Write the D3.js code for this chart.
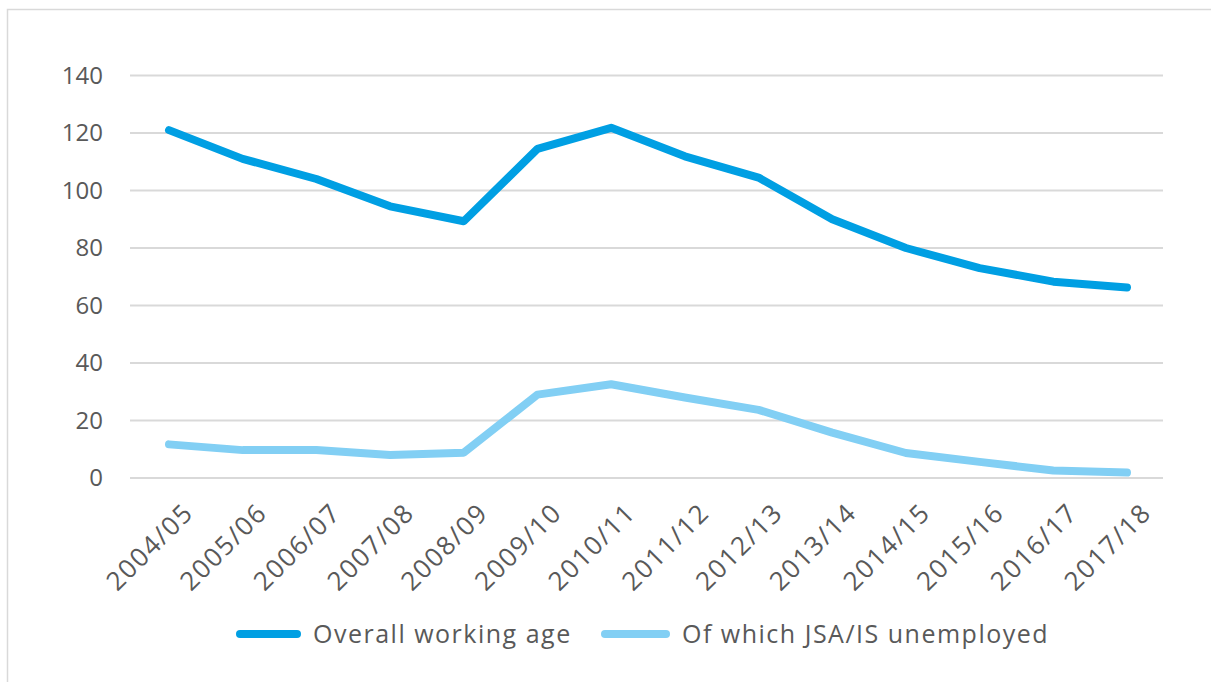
<!DOCTYPE html>
<html>
<head>
<meta charset="utf-8">
<script src="https://cdn.jsdelivr.net/npm/d3@7"></script>
<style>
  html, body { margin: 0; padding: 0; background: #fff; }
  svg { display: block; font-family: "Open Sans", sans-serif; }
</style>
</head>
<body>
<svg id="chart" width="1211" height="682"></svg>
<script>
const categories = ["2004/05","2005/06","2006/07","2007/08","2008/09","2009/10","2010/11","2011/12","2012/13","2013/14","2014/15","2015/16","2016/17","2017/18"];
const overallWorkingAge = [121, 111, 104, 94.5, 89.3, 114.5, 121.8, 111.9, 104.5, 90, 80, 73, 68.3, 66.3];
const jsaIsUnemployed = [11.7, 9.7, 9.7, 8.0, 8.8, 29, 32.6, 28, 23.7, 15.8, 8.7, 5.6, 2.6, 1.9];
const yTicks = [0, 20, 40, 60, 80, 100, 120, 140];
const seriesNames = ["Overall working age", "Of which JSA/IS unemployed"];
const seriesColors = ["#009FE3", "#82CFF4"];

const svg = d3.select("#chart");
const W = 1211, H = 682;
const plot = { left: 130, right: 1163, top: 75.5, bottom: 478 };
const textColor = "#595959";

// outer frame
svg.append("rect")
  .attr("x", 7.5).attr("y", 9.5)
  .attr("width", W + 20).attr("height", H + 20)
  .attr("fill", "none").attr("stroke", "#D9D9D9").attr("stroke-width", 1.5);

const x = d3.scalePoint().domain(categories).range([169, 1127]);
const y = d3.scaleLinear().domain([0, 140]).range([plot.bottom, plot.top]);

// gridlines
svg.append("g").selectAll("line").data(yTicks).join("line")
  .attr("x1", plot.left).attr("x2", plot.right)
  .attr("y1", d => y(d)).attr("y2", d => y(d))
  .attr("stroke", "#D9D9D9").attr("stroke-width", 2);

// y axis labels
const yAxis = svg.append("g")
  .attr("transform", `translate(${plot.left},0)`)
  .call(d3.axisLeft(y).tickValues(yTicks).tickSize(0).tickPadding(27));
yAxis.select(".domain").remove();
yAxis.selectAll("text")
  .attr("fill", textColor)
  .style("font-size", "24px")
  .style("font-family", "'Open Sans', sans-serif");

// x axis labels
const xAxis = svg.append("g")
  .attr("transform", `translate(0,${plot.bottom})`)
  .call(d3.axisBottom(x).tickSize(0).tickPadding(0));
xAxis.select(".domain").remove();
xAxis.selectAll("text")
  .attr("fill", textColor)
  .style("font-size", "26px")
  .style("letter-spacing", "1.6px")
  .style("font-family", "'Open Sans', sans-serif")
  .attr("text-anchor", "end")
  .attr("y", 0).attr("dy", "0.35em")
  .attr("transform", "translate(19,30) rotate(-45)");

// lines
const line = d3.line().x((d, i) => x(categories[i])).y(d => y(d));
[overallWorkingAge, jsaIsUnemployed].forEach((s, k) => {
  svg.append("path")
    .datum(s)
    .attr("d", line)
    .attr("fill", "none")
    .attr("stroke", seriesColors[k])
    .attr("stroke-width", 8)
    .attr("stroke-linecap", "round")
    .attr("stroke-linejoin", "round");
});

// legend
const legendItems = [
  { x1: 240, x2: 297, tx: 313 },
  { x1: 605, x2: 666, tx: 682 }
];
const lg = svg.append("g");
legendItems.forEach((it, k) => {
  lg.append("line")
    .attr("x1", it.x1).attr("x2", it.x2)
    .attr("y1", 634).attr("y2", 634)
    .attr("stroke", seriesColors[k]).attr("stroke-width", 8)
    .attr("stroke-linecap", "round");
  lg.append("text")
    .attr("x", it.tx).attr("y", 634).attr("dy", "0.35em")
    .attr("fill", textColor)
    .style("font-size", "25px")
    .style("letter-spacing", "1.5px")
    .text(seriesNames[k]);
});
</script>
</body>
</html>
